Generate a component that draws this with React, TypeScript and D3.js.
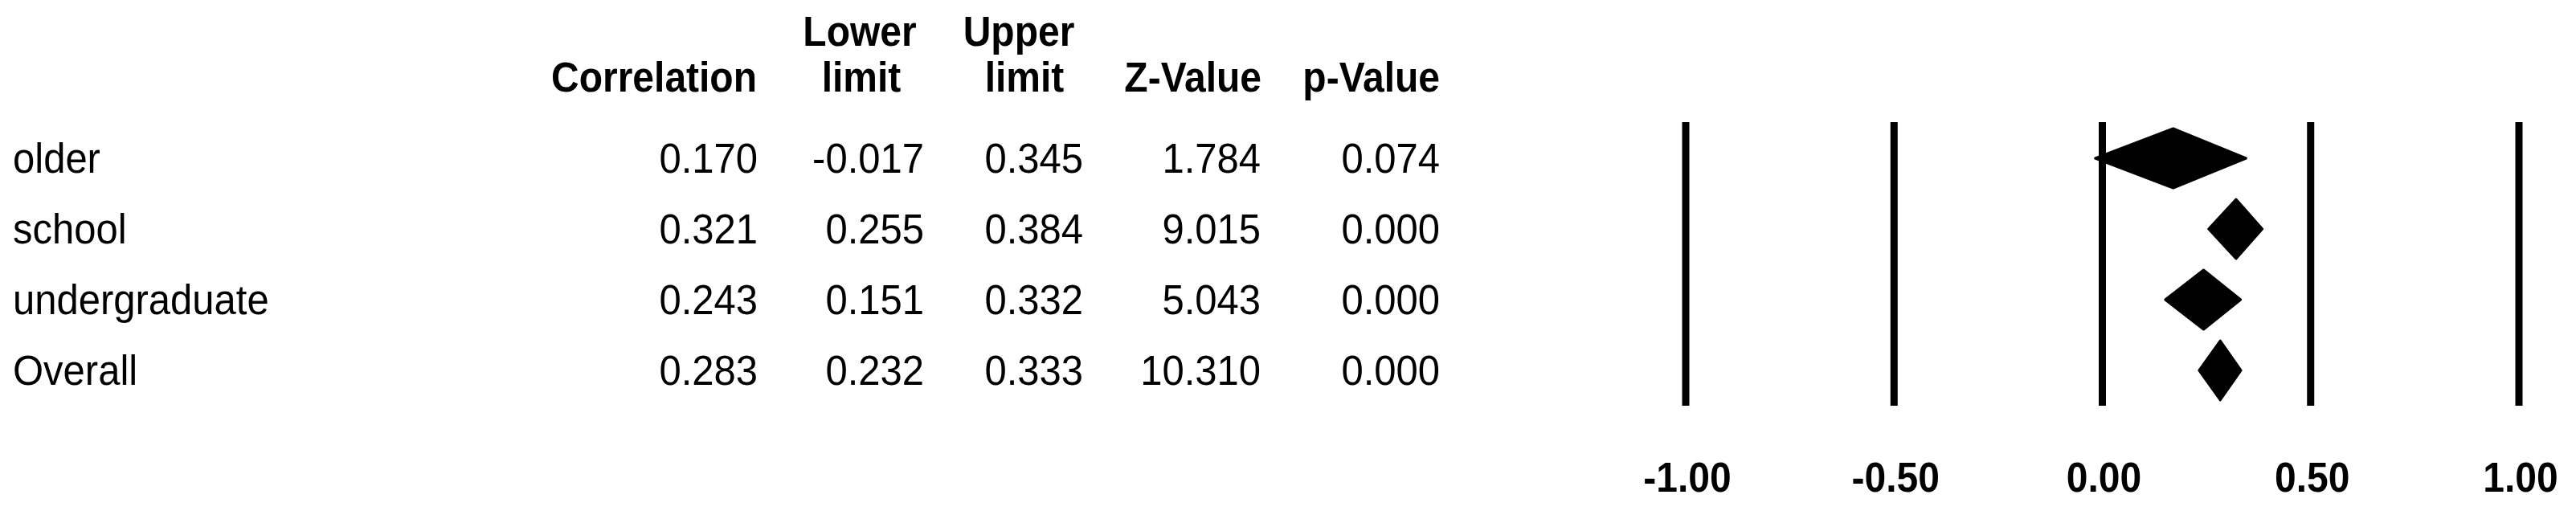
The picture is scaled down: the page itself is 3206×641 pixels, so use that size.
import React from "react";
import * as d3 from "d3";

const categories = ["older", "school", "undergraduate", "Overall"];
const correlation = [0.17, 0.321, 0.243, 0.283];
const lowerLimit = [-0.017, 0.255, 0.151, 0.232];
const upperLimit = [0.345, 0.384, 0.332, 0.333];
const zValue = [1.784, 9.015, 5.043, 10.31];
const pValue = [0.074, 0.0, 0.0, 0.0];
const axisTicks = [-1, -0.5, 0, 0.5, 1];

const W = 3206;
const H = 641;
const FONT = "'Liberation Sans', Arial, Helvetica, sans-serif";
const SY = 1.07;

function T(props: {
  x: number;
  y: number;
  anchor?: string;
  bold?: boolean;
  size?: number;
  children: React.ReactNode;
}) {
  const { x, y, anchor = "start", bold = false, size = 49 } = props;
  return (
    <text
      transform={`translate(${x},${y}) scale(1,${SY})`}
      textAnchor={anchor as any}
      fontFamily={FONT}
      fontWeight={bold ? 700 : 400}
      fontSize={size}
      fill="#000"
    >
      {props.children}
    </text>
  );
}

const hyphen = (s: string) => s.replace(/\u2212/g, "-");

export default function App() {
  const x = d3.scaleLinear().domain([-1, 1]).range([2098, 3135]);
  const y = d3.scalePoint<string>().domain(categories).range([197, 461]);
  const f3 = d3.format(".3f");
  const f2 = d3.format(".2f");
  const fmt = (v: number) => hyphen(f3(v));
  const tickFmt = (v: number) => hyphen(f2(v));
  const halfH = 37;
  const baseOff = 17.5;

  const columns = [
    { values: correlation, right: 943 },
    { values: lowerLimit, right: 1150 },
    { values: upperLimit, right: 1348 },
    { values: zValue, right: 1569 },
    { values: pValue, right: 1792 },
  ];

  const diamond = (i: number) => {
    const cy = y(categories[i]) as number;
    const pts: [number, number][] = [
      [x(lowerLimit[i]), cy],
      [x(correlation[i]), cy - halfH],
      [x(upperLimit[i]), cy],
      [x(correlation[i]), cy + halfH],
    ];
    return d3.line()(pts) + "Z";
  };

  return (
    <svg
      width={W}
      height={H}
      style={{ position: "absolute", left: 0, top: 0, display: "block", background: "#fff" }}
    >
      <rect x={0} y={0} width={W} height={H} fill="#fff" />
      {/* headers */}
      <T x={942} y={114} anchor="end" bold size={48}>Correlation</T>
      <T x={1070} y={57} anchor="middle" bold size={48}>Lower</T>
      <T x={1072} y={114} anchor="middle" bold size={48}>limit</T>
      <T x={1268} y={57} anchor="middle" bold size={48}>Upper</T>
      <T x={1275} y={114} anchor="middle" bold size={48}>limit</T>
      <T x={1570} y={114} anchor="end" bold size={48}>Z-Value</T>
      <T x={1792} y={114} anchor="end" bold size={48}>p-Value</T>

      {/* rows */}
      {categories.map((c, i) => {
        const by = (y(c) as number) + baseOff;
        return (
          <g key={c}>
            <T x={16} y={by}>{c}</T>
            {columns.map((col, j) => (
              <T key={j} x={col.right} y={by} anchor="end">
                {fmt(col.values[i])}
              </T>
            ))}
          </g>
        );
      })}

      {/* vertical reference lines */}
      {axisTicks.map((t) => (
        <line
          key={t}
          x1={x(t)}
          x2={x(t)}
          y1={152}
          y2={505}
          stroke="#000"
          strokeWidth={9}
        />
      ))}

      {/* diamonds */}
      {categories.map((c, i) => (
        <path
          key={c}
          d={diamond(i)}
          fill="#000"
          stroke="#000"
          strokeWidth={3}
          strokeLinejoin="round"
        />
      ))}

      {/* axis labels */}
      {axisTicks.map((t) => (
        <T key={t} x={x(t) + 2} y={612} anchor="middle" bold size={48}>
          {tickFmt(t)}
        </T>
      ))}
    </svg>
  );
}
